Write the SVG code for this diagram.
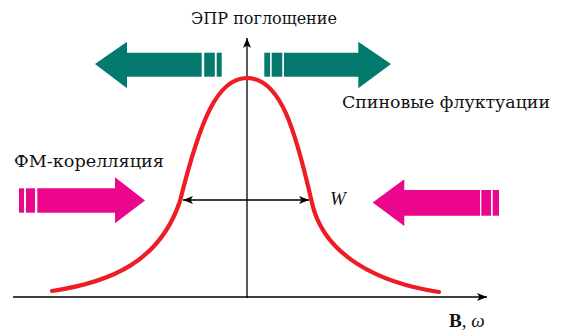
<svg xmlns="http://www.w3.org/2000/svg" width="563" height="336" viewBox="0 0 563 336">
<defs>
<style>
.t{font-family:"Liberation Serif","DejaVu Serif","Times New Roman",serif;font-size:19px;fill:#111}
.c{font-family:"DejaVu Serif","Liberation Serif",serif;font-size:17px;fill:#111}
.teal{fill:#04796d}
.pink{fill:#ec068b}
.ax{stroke:#000;stroke-width:1.3;fill:none}
</style>
<marker id="ah" viewBox="0 0 10 8" refX="10" refY="4" markerWidth="10" markerHeight="8" markerUnits="userSpaceOnUse" orient="auto-start-reverse">
<path d="M0,0 L10,4 L0,8 L2.5,4 Z" fill="#000"/>
</marker>
</defs>
<rect width="563" height="336" fill="#fff"/>
<g id="arrow-teal-left" class="teal">
<polygon points="95,64 127,41.7 127,52.7 201.7,52.7 201.7,76.7 127,76.7 127,88.3"/>
<rect x="204.2" y="52.7" width="10.6" height="24"/>
<rect x="216.7" y="52.7" width="5" height="24"/>
</g>
<g id="arrow-teal-right" class="teal">
<rect x="264.3" y="52.7" width="5.8" height="24"/>
<rect x="271.7" y="52.7" width="10.6" height="24"/>
<polygon points="284,52.7 358.3,52.7 358.3,41.7 391,64 358.3,88.3 358.3,76.7 284,76.7"/>
</g>
<g id="arrow-pink-left" class="pink">
<rect x="19" y="188.3" width="5" height="24.4"/>
<rect x="26" y="188.3" width="9" height="24.4"/>
<polygon points="37.3,188.3 115,188.3 115,177.3 145,200.5 115,223.3 115,212.7 37.3,212.7"/>
</g>
<g id="arrow-pink-right" class="pink">
<polygon points="372.7,202.5 404.3,179.3 404.3,190 480,190 480,215.7 404.3,215.7 404.3,226"/>
<rect x="481.3" y="190" width="9.7" height="25.7"/>
<rect x="492.7" y="190" width="6.3" height="25.7"/>
</g>
<g id="connectors">
<line class="ax" x1="13" y1="297" x2="487" y2="297" marker-end="url(#ah)"/>
<line class="ax" x1="247" y1="298" x2="247" y2="38" marker-end="url(#ah)"/>
<line class="ax" x1="183" y1="200" x2="309" y2="200" marker-start="url(#ah)" marker-end="url(#ah)"/>
</g>
<g id="curve">
<path d="M52,291 C112,282 160,261 180,201 C200,121 217,78 247,78 C280,78 295,128 312,203 C324,256 379,283 439,292" fill="none" stroke="#ee1c25" stroke-width="4.2" stroke-linecap="round" stroke-linejoin="round"/>
</g>
<g id="labels">
<text class="c" x="191" y="23.5" textLength="146" lengthAdjust="spacingAndGlyphs">ЭПР поглощение</text>
<text class="c" x="342" y="108.3" textLength="208" lengthAdjust="spacingAndGlyphs">Спиновые флуктуации</text>
<text class="c" x="14" y="166.7" textLength="150" lengthAdjust="spacingAndGlyphs">ФМ-корелляция</text>
<text class="t" x="330" y="205" font-style="italic" font-size="20">W</text>
<text class="t" x="449" y="327.3" font-size="20"><tspan font-weight="bold">B</tspan>, <tspan font-style="italic">ω</tspan></text>
</g>
</svg>
